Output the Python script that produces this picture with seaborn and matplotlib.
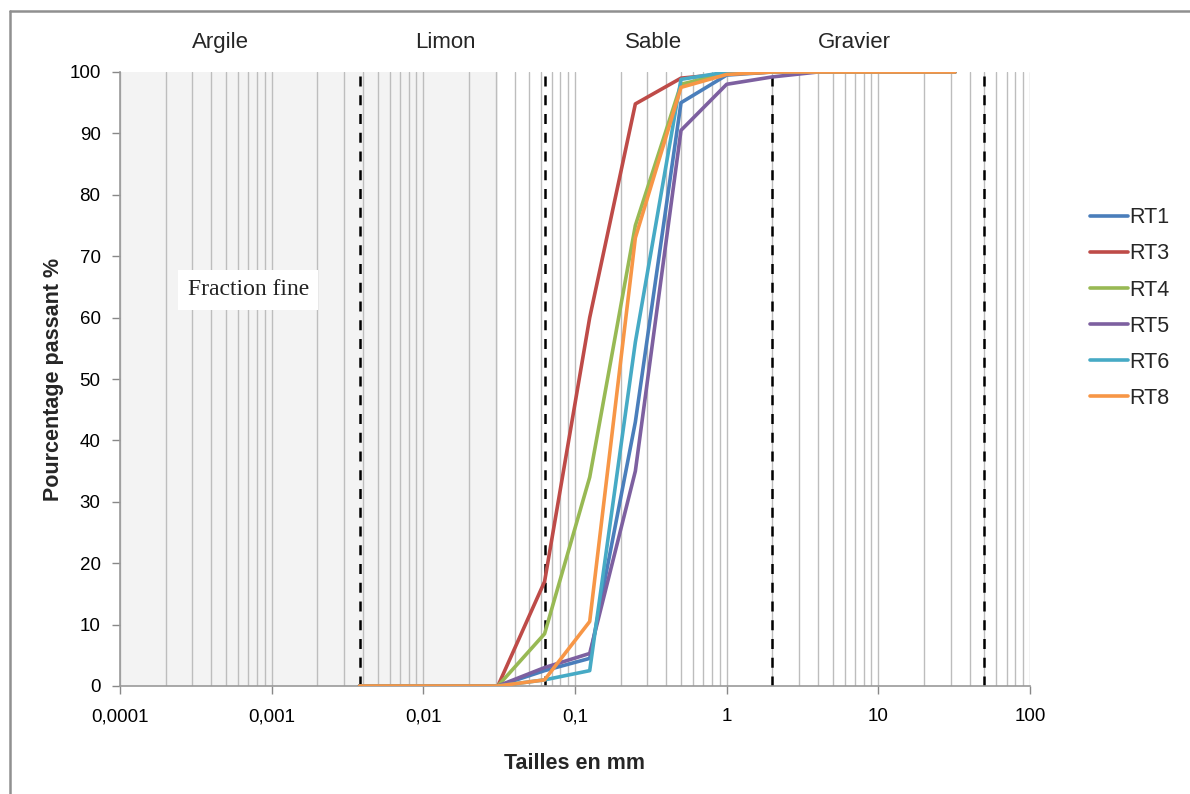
import numpy as np
import pandas as pd
import seaborn as sns
import matplotlib.pyplot as plt
from matplotlib.lines import Line2D
from matplotlib.ticker import FixedLocator, LogLocator, NullFormatter

# tamis (mm) et pourcentages passants
tailles = [0.0038, 0.031, 0.063, 0.125, 0.25, 0.5, 1, 2, 4, 32]
rt1 = [0, 0, 2.5, 4.5, 43, 95, 99.5, 100, 100, 100]
rt3 = [0, 0, 17, 60, 94.8, 99, 99.7, 100, 100, 100]
rt4 = [0, 0, 8.5, 34, 75, 98, 99.8, 100, 100, 100]
rt5 = [0, 0, 3, 5.3, 35, 90.5, 98, 99.2, 100, 100]
rt6 = [0, 0, 1, 2.5, 56, 98.8, 100, 100, 100, 100]
rt8 = [0, 0, 1, 10.5, 73, 97.5, 99.6, 100, 100, 100]

echantillons = ["RT1", "RT3", "RT4", "RT5", "RT6", "RT8"]
couleurs = ["#4a7ebb", "#be4b48", "#98b954", "#7d60a0", "#46aac5", "#f79646"]

limites = [0.0038, 0.063, 2, 50]  # argile / limon / sable / gravier
classes = ["Argile", "Limon", "Sable", "Gravier"]
pos_classes = [0.00046, 0.0139, 0.33, 7.0]
fin_fraction = 0.031

rows = []
for nom, vals in zip(echantillons, [rt1, rt3, rt4, rt5, rt6, rt8]):
    for t, v in zip(tailles, vals):
        rows.append((nom, t, v))
df = pd.DataFrame(rows, columns=["ech", "taille", "passant"])

sns.set_style("white")
plt.rcParams["font.family"] = ["Liberation Sans", "DejaVu Sans"]

fig = plt.figure(figsize=(11.9, 7.94), dpi=100)
ax = fig.add_axes([120/1190, 108/794, 910/1190, 614/794])

ax.axvspan(1e-4, fin_fraction, color="#f3f3f3", zorder=0, lw=0)

sns.lineplot(data=df, x="taille", y="passant", hue="ech", hue_order=echantillons,
             palette=couleurs, linewidth=2.6, legend=False, ax=ax, zorder=3)

ax.set_xscale("log")
ax.set_xlim(1e-4, 100)
ax.set_ylim(0, 100)
ax.xaxis.set_minor_locator(LogLocator(base=10, subs=np.arange(2, 10)))
ax.xaxis.set_minor_formatter(NullFormatter())
ax.grid(True, which="both", axis="x", color="#bdbdbd", lw=1, zorder=1)
ax.grid(False, axis="y")
ax.set_axisbelow(True)

ax.xaxis.set_major_locator(FixedLocator([1e-4, 1e-3, 1e-2, 0.1, 1, 10, 100]))
ax.set_xticklabels(["0,0001", "0,001", "0,01", "0,1", "1", "10", "100"])
ax.set_yticks(range(0, 101, 10))
ax.tick_params(axis="both", labelsize=13.5, colors="#888888", labelcolor="black",
               length=6, width=1, direction="out")
ax.tick_params(axis="x", which="minor", length=0)
ax.tick_params(axis="x", pad=10)
ax.tick_params(axis="y", pad=8)
ax.tick_params(bottom=True, left=True)

for s in ["top", "right"]:
    ax.spines[s].set_visible(False)
for s in ["left", "bottom"]:
    ax.spines[s].set_color("#999999")
    ax.spines[s].set_linewidth(1.2)

for lim in limites:
    ax.axvline(lim, color="black", ls=(0, (4, 3.5)), lw=1.8, zorder=2)

ax.set_xlabel("Tailles en mm", fontsize=15.5, fontweight="bold", labelpad=20)
ax.set_ylabel("Pourcentage passant %", fontsize=15.5, fontweight="bold", labelpad=4)

trans = ax.get_xaxis_transform()
for nom, x in zip(classes, pos_classes):
    ax.text(x, 1.048, nom, transform=trans, ha="center", va="center", fontsize=16)

ax.text(0.0007, 64.5, "Fraction fine", ha="center", va="center", fontsize=17,
        family=["Liberation Serif", "DejaVu Serif"], color="#222222",
        bbox=dict(boxstyle="square,pad=0.4", fc="white", ec="none"), zorder=4)

handles = [Line2D([], [], color=c, lw=2.6) for c in couleurs]
fig.legend(handles, echantillons, loc="center left", bbox_to_anchor=(0.9, 0.612),
           frameon=False, fontsize=15.5, handlelength=1.75, handletextpad=0.05,
           labelspacing=0.7)

# cadre du graphique
fig.add_artist(Line2D([9.5/1190, 9.5/1190], [0, 1 - 10.5/794], transform=fig.transFigure,
                      color="#909090", lw=1.8))
fig.add_artist(Line2D([9.5/1190, 1], [1 - 10.5/794, 1 - 10.5/794], transform=fig.transFigure,
                      color="#909090", lw=1.8))

fig.savefig("out.png", dpi=100)
